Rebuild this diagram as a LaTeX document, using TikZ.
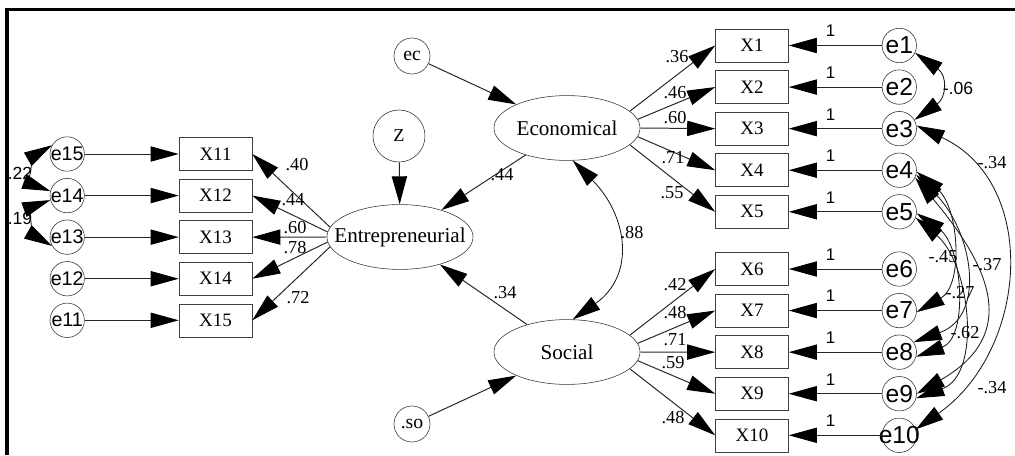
\documentclass[tikz,border=0pt]{standalone}
\usepackage{fontspec}
\setmainfont{Liberation Serif}
\newfontfamily\arialfont{Liberation Sans}
\usetikzlibrary{positioning, shapes.geometric, arrows.meta}

\begin{document}
\begin{tikzpicture}[
        x=0.025cm, y=-0.025cm,
        item/.style = {
                rectangle,
                draw=black!75,
                minimum width = 1.825cm,
                minimum height = 0.825cm,
                inner sep = 0pt,
                font=\fontsize{13.5}{16}\selectfont
            },
        latent/.style = {
                ellipse,
                draw=black!80,
                minimum width = 3.65cm,
                minimum height = 1.62cm,
                inner sep = 0pt,
                font=\fontsize{15}{18}\selectfont
            },
        err/.style = {circle, draw=black!80, minimum size=0.86cm, inner sep=-4pt, font=\arialfont\fontsize{14}{16}\selectfont},
        errbig/.style = {err, font=\arialfont\fontsize{17.5}{20}\selectfont},
        resid/.style = {circle, draw=black!80, minimum size=0.9cm, inner sep=0pt, font=\fontsize{14}{16}\selectfont},
        coef/.style = {inner sep=0pt, font=\fontsize{13}{15}\selectfont},
        coefsans/.style = {inner sep=0pt, font=\arialfont\fontsize{12.5}{15}\selectfont},
        one/.style = {inner sep=0pt, font=\arialfont\fontsize{12}{14}\selectfont},
        >={Triangle[length=0.7cm, width=0.38cm, color=black]},
        load/.style = {->, draw=black!85, line width=0.7pt},
        cov/.style = {<->, draw=black!90, line width=0.6pt}
    ]
    \useasboundingbox (0,0) rectangle (1015,455);
    \draw[line width=2.2pt] (7,455) -- (7,9.5) -- (1015,9.5);

    % latent variables
    \node[latent] (eco) at (567,128) {\makebox[0pt]{Economical}};
    \node[latent] (soc) at (567,352) {\makebox[0pt]{Social}};
    \node[latent] (ent) at (400,237) {\makebox[0pt]{Entrepreneurial}};
    \node[resid] (ec) at (412,56) {ec};
    \node[resid] (so) at (412,424) {.so};
    \node[resid, minimum size=1.3cm, font=\fontsize{13}{15}\selectfont] (z) at (399,136) {Z};

    % left indicators
    \node[item] (x11) at (215.5,154) {X11};
    \node[item] (x12) [below=0.2cm of x11] {X12};
    \node[item] (x13) [below=0.2cm of x12] {X13};
    \node[item] (x14) [below=0.2cm of x13] {X14};
    \node[item] (x15) [below=0.2cm of x14] {X15};
    \node[err] (e15) [left=2.35cm of x11] {e15};
    \node[err] (e14) [left=2.35cm of x12] {e14};
    \node[err] (e13) [left=2.35cm of x13] {e13};
    \node[err] (e12) [left=2.35cm of x14] {e12};
    \node[err] (e11) [left=2.35cm of x15] {e11};

    % right indicators
    \node[item] (x1) at (752,45.5) {X1};
    \node[item] (x2) [below=0.2cm of x1] {X2};
    \node[item] (x3) [below=0.2cm of x2] {X3};
    \node[item] (x4) [below=0.2cm of x3] {X4};
    \node[item] (x5) [below=0.2cm of x4] {X5};
    \node[item] (x6) at (752,269) {X6};
    \node[item] (x7) [below=0.2cm of x6] {X7};
    \node[item] (x8) [below=0.2cm of x7] {X8};
    \node[item] (x9) [below=0.2cm of x8] {X9};
    \node[item] (x10) [below=0.2cm of x9] {X10};
    \node[errbig] (e1) [right=2.325cm of x1] {e1};
    \node[errbig] (e2) [right=2.325cm of x2] {e2};
    \node[errbig] (e3) [right=2.325cm of x3] {e3};
    \node[errbig] (e4) [right=2.325cm of x4] {e4};
    \node[errbig] (e5) [right=2.325cm of x5] {e5};
    \node[errbig] (e6) [right=2.325cm of x6] {e6};
    \node[errbig] (e7) [right=2.325cm of x7] {e7};
    \node[errbig] (e8) [right=2.325cm of x8] {e8};
    \node[errbig] (e9) [right=2.325cm of x9] {e9};
    \node[errbig] (e10) [right=2.325cm of x10] {e10};

    % structural paths
    \draw[load] (ec) -- (eco);
    \draw[load] (so) -- (soc);
    \draw[load] (z) -- (ent);
    \draw[load] (eco) -- (ent);
    \draw[load] (soc) -- (ent);
    \draw[cov] (eco.280) to[out=-45, in=35, looseness=1.25] (soc.80);
    \node[coef] (b1) at (502,175) {.44};
    \node[coef] (b2) at (505,293) {.34};
    \node[coef] (r1) at (632,233) {.88};

    % loadings of Entrepreneurial
    \draw[load] (ent.172) -- (x11.east);
    \draw[load] (ent.176) -- (x12.east);
    \draw[load] (ent.west) -- (x13.east);
    \draw[load] (ent.184) -- (x14.east);
    \draw[load] (ent.188) -- (x15.east);
    \node[coef] (l11) at (297,165) {.40};
    \node[coef] (l12) at (293,200) {.44};
    \node[coef] (l13) at (295,228) {.60};
    \node[coef] (l14) at (295,248) {.78};
    \node[coef] (l15) at (298,298) {.72};
    \draw[load] (e15) -- (x11);
    \draw[load] (e14) -- (x12);
    \draw[load] (e13) -- (x13);
    \draw[load] (e12) -- (x14);
    \draw[load] (e11) -- (x15);
    \draw[cov] (e15.150) to[out=210, in=160, looseness=1.15] (e14.165);
    \draw[cov] (e14.195) to[out=200, in=150, looseness=1.15] (e13.210);
    \node[coefsans] (c14) at (20,173) {.22};
    \node[coefsans] (c13) at (20,218) {.19};

    % loadings of Economical and Social
    \draw[load] (eco.15) -- (x1.west);
    \draw[load] (eco.7) -- (x2.west);
    \draw[load] (eco.east) -- (x3.west);
    \draw[load] (eco.-7) -- (x4.west);
    \draw[load] (eco.-15) -- (x5.west);
    \draw[load] (soc.15) -- (x6.west);
    \draw[load] (soc.7) -- (x7.west);
    \draw[load] (soc.east) -- (x8.west);
    \draw[load] (soc.-7) -- (x9.west);
    \draw[load] (soc.-15) -- (x10.west);
    \node[coef] (l1) at (677,57) {.36};
    \node[coef] (l2) at (675,93) {.46};
    \node[coef] (l3) at (675,118) {.60};
    \node[coef] (l4) at (673,158) {.71};
    \node[coef] (l5) at (672,193) {.55};
    \node[coef] (l6) at (675,285) {.42};
    \node[coef] (l7) at (675,313) {.48};
    \node[coef] (l8) at (675,340) {.71};
    \node[coef] (l9) at (673,363) {.59};
    \node[coef] (l10) at (673,418) {.48};

    % error terms on the right
    \draw[load] (e1) -- node[one, pos=0.55, yshift=0.36cm] (w1) {1} (x1);
    \draw[load] (e2) -- node[one, pos=0.55, yshift=0.36cm] (w2) {1} (x2);
    \draw[load] (e3) -- node[one, pos=0.55, yshift=0.36cm] (w3) {1} (x3);
    \draw[load] (e4) -- node[one, pos=0.55, yshift=0.36cm] (w4) {1} (x4);
    \draw[load] (e5) -- node[one, pos=0.55, yshift=0.36cm] (w5) {1} (x5);
    \draw[load] (e6) -- node[one, pos=0.55, yshift=0.36cm] (w6) {1} (x6);
    \draw[load] (e7) -- node[one, pos=0.55, yshift=0.36cm] (w7) {1} (x7);
    \draw[load] (e8) -- node[one, pos=0.55, yshift=0.36cm] (w8) {1} (x8);
    \draw[load] (e9) -- node[one, pos=0.55, yshift=0.36cm] (w9) {1} (x9);
    \draw[load] (e10) -- node[one, pos=0.55, yshift=0.36cm] (w10) {1} (x10);

    % error covariances
    \draw[cov] (e1.-25) to[out=-35, in=35, looseness=1.5] (e3.30);
    \draw[cov] (e3.10) to[out=-25, in=35, looseness=1.15] (e10.20);
    \draw[cov] (e4.-5) to[out=-40, in=30] (e7.-5);
    \draw[cov] (e4.-15) to[out=-45, in=20, looseness=1.2] (e8.35);
    \draw[cov] (e4.-25) to[out=-50, in=30, looseness=1.4] (e9.0);
    \draw[cov] (e5.-5) to[out=-35, in=20] (e8.-15);
    \draw[cov] (e5.-20) to[out=-40, in=20] (e9.-15);
    \node[coefsans] (c13x) at (958,88) {-.06};
    \node[coef] (c310) at (992,163) {-.34};
    \node[coef] (c47) at (943,257) {-.45};
    \node[coef] (c49) at (987,265) {-.37};
    \node[coef] (c58) at (960,293) {-.27};
    \node[coef] (c48) at (965,333) {-.62};
    \node[coef] (c59) at (992,388) {-.34};
\end{tikzpicture}
\end{document}
